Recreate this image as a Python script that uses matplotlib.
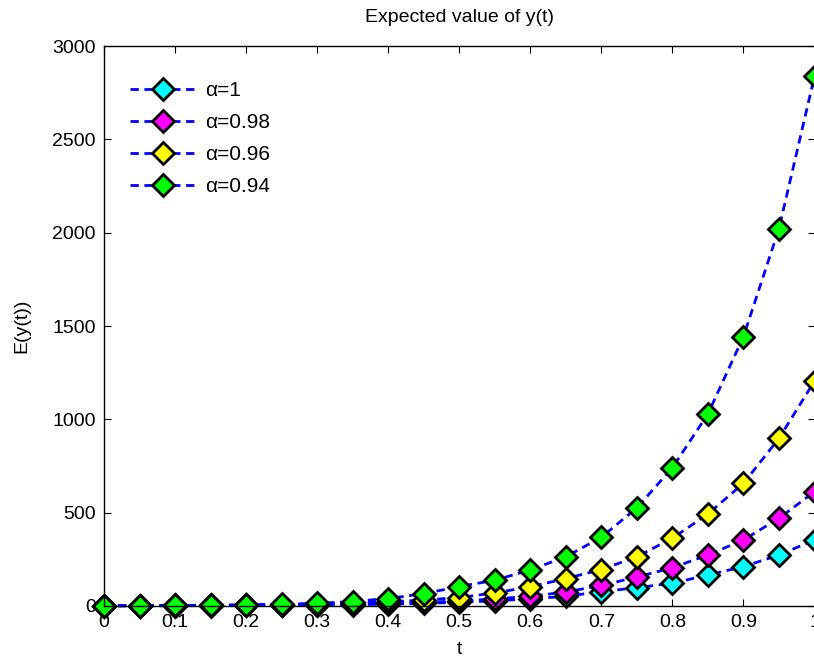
import numpy as np
import matplotlib
matplotlib.use('Agg')
import matplotlib.pyplot as plt

plt.rcParams['font.family'] = ['Liberation Sans', 'DejaVu Sans']

# t-värden och avlästa väntevärden E(y(t)) för olika alfa
t = [0, 0.05, 0.1, 0.15, 0.2, 0.25, 0.3, 0.35, 0.4, 0.45, 0.5,
     0.55, 0.6, 0.65, 0.7, 0.75, 0.8, 0.85, 0.9, 0.95, 1.0]
y_a100 = [1, 1, 1.5, 2, 3, 4, 5, 7, 10, 14, 20,
          28, 38, 52, 77, 98, 122, 166, 211, 273, 354]
y_a098 = [1, 1.5, 2, 3, 4, 5, 7, 10, 14, 19, 27,
          38, 52, 75, 110, 155, 205, 273, 354, 470, 612]
y_a096 = [1, 2, 3, 4, 5, 8, 11, 16, 22, 32, 45,
          70, 103, 147, 195, 264, 363, 493, 657, 898, 1205]
y_a094 = [1, 2, 3, 4, 6, 9, 14, 24, 40, 66, 104,
          138, 193, 264, 368, 526, 741, 1029, 1443, 2022, 2838]

serier = [(y_a100, 'cyan', 'α=1'),
          (y_a098, 'magenta', 'α=0.98'),
          (y_a096, 'yellow', 'α=0.96'),
          (y_a094, 'lime', 'α=0.94')]

def main():
    fig = plt.figure(figsize=(8.14, 6.57), dpi=100)
    ax = fig.add_axes([104/814, 51/657, 710.5/814, 560/657])

    for y, farg, namn in serier:
        ax.plot(t, y, '--', color='blue', lw=2, dashes=(3, 2),
                marker='D', ms=11, mfc=farg, mec='black', mew=2,
                label=namn, clip_on=False)

    ax.set_xlim(0, 1)
    ax.set_ylim(0, 3000)
    ax.set_xticks(np.arange(0, 1.01, 0.1))
    ax.set_xticklabels(['0', '0.1', '0.2', '0.3', '0.4', '0.5',
                        '0.6', '0.7', '0.8', '0.9', '1'])
    ax.set_yticks(np.arange(0, 3001, 500))
    ax.tick_params(direction='in', top=True, right=True, length=5,
                   labelsize=14, pad=6)
    for s in ax.spines.values():
        s.set_linewidth(1.0)

    ax.set_title('Expected value of y(t)', fontsize=14, pad=17)
    ax.set_xlabel('t', fontsize=14, labelpad=7)
    ax.set_ylabel('E(y(t))', fontsize=14, labelpad=16)

    ax.legend(loc='upper left', bbox_to_anchor=(0.036, 0.937),
              frameon=False, fontsize=15, handlelength=3.2,
              handletextpad=0.45, labelspacing=0.62, borderpad=0,
              borderaxespad=0)

    fig.savefig('out.png', dpi=100)

if __name__ == '__main__':
    main()
